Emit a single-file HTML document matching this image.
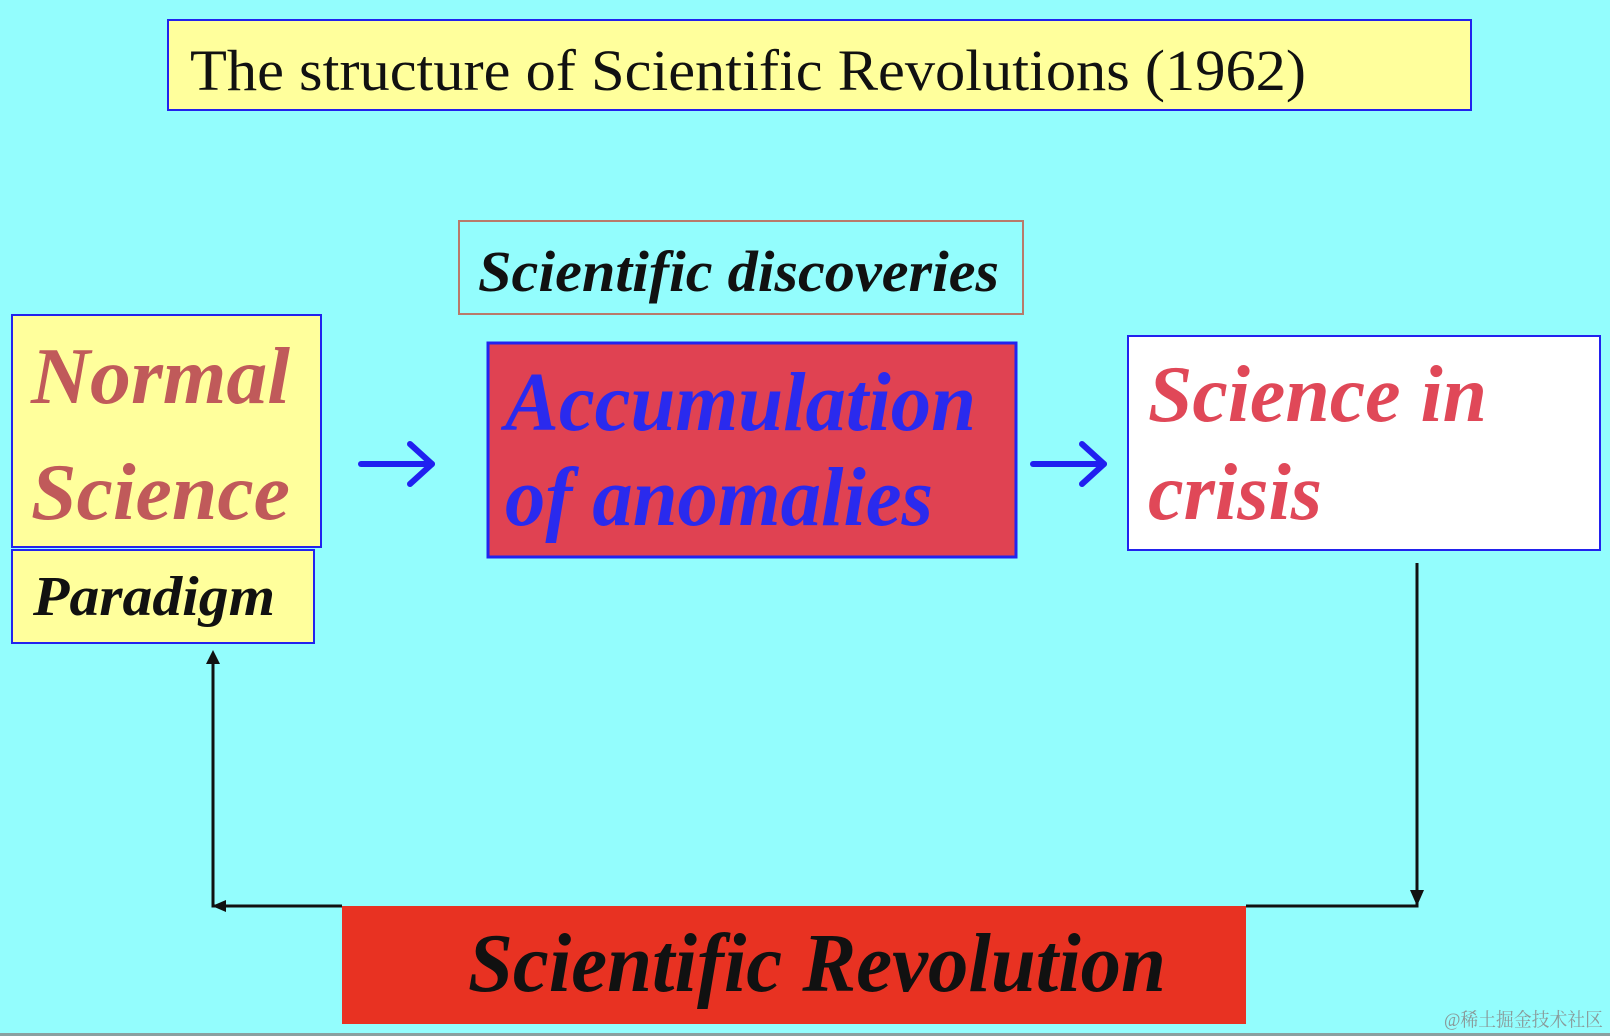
<!DOCTYPE html>
<html><head><meta charset="utf-8"><style>
html,body{margin:0;padding:0;background:#93fdfd;}
svg{display:block}
</style></head><body>
<svg width="1610" height="1036" viewBox="0 0 1610 1036" xmlns="http://www.w3.org/2000/svg">
<rect x="0" y="0" width="1610" height="1036" fill="#93fdfd"/>
<rect x="0" y="1033" width="1610" height="3" fill="#8aa0a0"/>
<!-- title -->
<rect x="168" y="20" width="1303" height="90" fill="#ffff9c" stroke="#2222ee" stroke-width="2"/>
<text x="190" y="90" font-family="Liberation Serif, serif" font-size="58" fill="#111" textLength="1116" lengthAdjust="spacingAndGlyphs">The structure of Scientific Revolutions (1962)</text>
<!-- discoveries -->
<rect x="459" y="221" width="564" height="93" fill="none" stroke="#b87a6a" stroke-width="2"/>
<text x="478" y="291" font-family="Liberation Serif, serif" font-size="58" font-weight="bold" font-style="italic" fill="#111" textLength="521" lengthAdjust="spacingAndGlyphs">Scientific discoveries</text>
<!-- normal science -->
<rect x="12" y="315" width="309" height="232" fill="#ffff9c" stroke="#2222ee" stroke-width="2"/>
<text x="31" y="403" font-family="Liberation Serif, serif" font-size="80" font-weight="bold" font-style="italic" fill="#c05a5a" textLength="259" lengthAdjust="spacingAndGlyphs">Normal</text>
<text x="31" y="519" font-family="Liberation Serif, serif" font-size="80" font-weight="bold" font-style="italic" fill="#c05a5a" textLength="259" lengthAdjust="spacingAndGlyphs">Science</text>
<rect x="12" y="550" width="302" height="93" fill="#ffff9c" stroke="#2222ee" stroke-width="2"/>
<text x="33" y="615" font-family="Liberation Serif, serif" font-size="56" font-weight="bold" font-style="italic" fill="#111" textLength="242" lengthAdjust="spacingAndGlyphs">Paradigm</text>
<!-- arrows -->
<g stroke="#2020f0" stroke-width="6" fill="none" stroke-linecap="round" stroke-linejoin="round">
<line x1="361" y1="464" x2="432" y2="464"/><polyline points="410,444 432,464 410,484"/>
<line x1="1033" y1="464" x2="1104" y2="464"/><polyline points="1082,444 1104,464 1082,484"/>
</g>
<!-- accumulation -->
<rect x="488" y="343" width="528" height="214" fill="#e04252" stroke="#2222ee" stroke-width="3"/>
<text x="505" y="430" font-family="Liberation Serif, serif" font-size="84" font-weight="bold" font-style="italic" fill="#2a2aee" textLength="471" lengthAdjust="spacingAndGlyphs">Accumulation</text>
<text x="505" y="525" font-family="Liberation Serif, serif" font-size="84" font-weight="bold" font-style="italic" fill="#2a2aee" textLength="428" lengthAdjust="spacingAndGlyphs">of anomalies</text>
<!-- crisis -->
<rect x="1128" y="336" width="472" height="214" fill="#ffffff" stroke="#2222ee" stroke-width="2"/>
<text x="1148" y="421" font-family="Liberation Serif, serif" font-size="80" font-weight="bold" font-style="italic" fill="#e04858" textLength="339" lengthAdjust="spacingAndGlyphs">Science in</text>
<text x="1148" y="519" font-family="Liberation Serif, serif" font-size="80" font-weight="bold" font-style="italic" fill="#e04858" textLength="174" lengthAdjust="spacingAndGlyphs">crisis</text>
<!-- connectors -->
<g stroke="#111" stroke-width="3" fill="none">
<polyline points="1417,563 1417,906 1246,906"/>
<polyline points="342,906 213,906 213,660"/>
</g>
<polygon points="1410,890 1424,890 1417,906" fill="#111"/>
<polygon points="206,664 220,664 213,650" fill="#111"/>
<polygon points="226,900 226,912 212,906" fill="#111"/>
<!-- revolution -->
<rect x="342" y="906" width="904" height="118" fill="#e83222"/>
<text x="468" y="991" font-family="Liberation Serif, serif" font-size="84" font-weight="bold" font-style="italic" fill="#111" textLength="698" lengthAdjust="spacingAndGlyphs">Scientific Revolution</text>
<text x="1444" y="1026" font-family="Liberation Serif, 'Noto Serif CJK SC', serif" font-size="19" fill="#8a9a9a" textLength="159" lengthAdjust="spacingAndGlyphs">@稀土掘金技术社区</text>
</svg>
</body></html>
